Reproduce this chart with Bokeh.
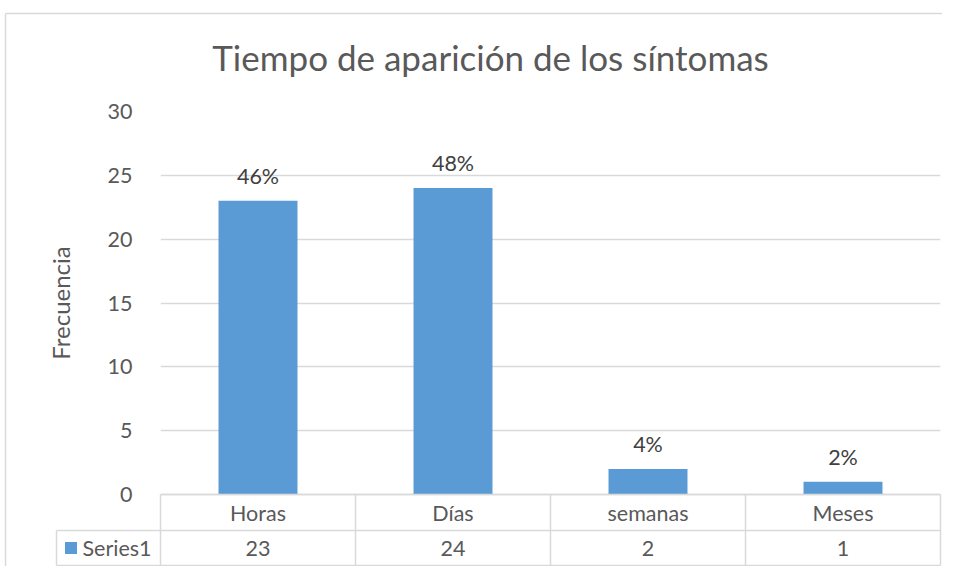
import math
from bokeh.plotting import figure
from bokeh.models import Range1d, FixedTicker, ColumnDataSource
from bokeh.core.properties import value
from bokeh.embed import file_html
from bokeh.resources import INLINE

# ---- data ----
categories = ["Horas", "Días", "semanas", "Meses"]
frequencies = [23, 24, 2, 1]
series_name = "Series1"
y_ticks = [0, 5, 10, 15, 20, 25, 30]
title_text = "Tiempo de aparición de los síntomas"
y_label = "Frecuencia"

total = sum(frequencies)
pct_labels = [f"{round(v * 100 / total)}%" for v in frequencies]

# ---- layout (pixels) ----
W, H = 942, 566
FL, FR, FT = 160, 2, 111           # frame left / right border, top border
ZERO_PX = 494                      # canvas y of value 0
ROW_PX = 36                        # table row height
FONT = "Lato"
TXT = "#595959"
GRID = "#d9d9d9"
BAR = "#5B9BD5"
FS = "21.5px"

frame_w = W - FL - FR
upp_y = 30 / (ZERO_PX - FT)        # data units per pixel (y)
ymin = -(H - ZERO_PX) * upp_y
n = len(categories)
upp_x = n / frame_w                # data units per pixel (x)

def px_x(px):
    return -0.5 + (px - FL) * upp_x

def px_y(py):
    return 30 + (FT - py) * upp_y

p = figure(width=W, height=H, output_backend="svg", toolbar_location=None,
           x_range=Range1d(-0.5, n - 0.5), y_range=Range1d(ymin, 30),
           x_axis_type=None, min_border_left=FL, min_border_right=FR,
           min_border_top=FT, min_border_bottom=0)
p.outline_line_color = None
p.background_fill_color = "white"
p.border_fill_color = "white"
p.xgrid.visible = False

ax = p.yaxis[0]
ax.ticker = FixedTicker(ticks=y_ticks)
ax.axis_line_color = None
ax.major_tick_line_color = None
ax.minor_tick_line_color = None
ax.major_label_standoff = 22
ax.major_label_text_font = FONT
ax.major_label_text_font_size = FS
ax.major_label_text_color = TXT
p.ygrid.ticker = FixedTicker(ticks=y_ticks)
p.ygrid.grid_line_color = GRID
p.ygrid.grid_line_width = 1.3

xs = list(range(n))
src = ColumnDataSource(dict(x=xs, top=frequencies, cat=categories,
                            pct=pct_labels, val=[str(v) for v in frequencies]))

p.vbar(x="x", top="top", bottom=0, width=0.405, source=src,
       fill_color=BAR, line_color=None)
p.text(x="x", y="top", text="pct", source=src, y_offset=-25,
       text_align="center", text_baseline="middle",
       text_font=value(FONT), text_font_size=FS, text_color="#404040")

# ---- data table below the plot ----
r1 = -ROW_PX * upp_y
r2 = -(2 * ROW_PX - 1) * upp_y
left_cell = px_x(56)
edges = [i - 0.5 for i in range(n + 1)]
tbl = dict(x0=[], y0=[], x1=[], y1=[])
def seg(a, b, c, d):
    tbl["x0"].append(a); tbl["y0"].append(b); tbl["x1"].append(c); tbl["y1"].append(d)
seg(-0.5, 0, n - 0.5, 0)
seg(left_cell, r1, n - 0.5, r1)
seg(left_cell, r2, n - 0.5, r2)
for e in edges:
    seg(e, 0, e, r2)
seg(left_cell, r1, left_cell, r2)
# chart area border (top and left)
top_y = px_y(13)
border_x = px_x(5)
seg(border_x, top_y, px_x(W + 2), top_y)
seg(border_x, top_y, border_x, ymin - 2 * upp_y)
p.segment(x0="x0", y0="y0", x1="x1", y1="y1", source=ColumnDataSource(tbl),
          line_color=GRID, line_width=1.5, level="overlay")

row2_mid = (r1 + r2) / 2
p.text(x="x", y=r1 / 2, text="cat", source=src, text_align="center",
       text_baseline="middle", text_font=value(FONT), text_font_size=FS,
       text_color=TXT, level="overlay")
p.text(x="x", y=row2_mid, text="val", source=src, text_align="center",
       text_baseline="middle", text_font=value(FONT), text_font_size=FS,
       text_color=TXT, level="overlay")
# legend key (small square) drawn as a thick short segment
p.segment(x0=[px_x(64.5)], y0=[row2_mid], x1=[px_x(76.5)], y1=[row2_mid],
          line_color=BAR, line_width=12, line_cap="butt", level="overlay")
p.text(x=[px_x(82)], y=[row2_mid], text=[series_name],
       text_align="left", text_baseline="middle", text_font=value(FONT),
       text_font_size=FS, text_color=TXT, level="overlay")

# y-axis title, centred on the plot area
p.text(x=[px_x(60)], y=[15], text=[y_label], angle=math.pi / 2,
       text_align="center", text_baseline="middle", text_font=value(FONT),
       text_font_size="24px", text_color=TXT, level="overlay")

# title
p.text(x=[px_x(490)], y=[px_y(56)], text=[title_text], text_align="center",
       text_baseline="middle", text_font=value(FONT), text_font_size="35px",
       text_color=TXT, level="overlay")

open("out.html", "w").write(file_html(p, INLINE))
